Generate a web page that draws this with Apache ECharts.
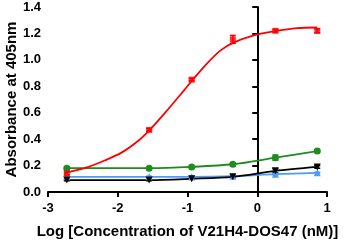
<!DOCTYPE html>
<html>
<head>
<meta charset="utf-8">
<script src="https://cdn.jsdelivr.net/npm/echarts@6/dist/echarts.min.js"></script>
<style>
html, body { margin: 0; padding: 0; background: #fff; }
#main { width: 344px; height: 241px; }
</style>
</head>
<body>
<div id="main"></div>
<script>
// log concentration (nM)
var logConc = [-2.73, -1.55, -0.94, -0.35, 0.26, 0.86];
var redVals = [0.14, 0.47, 0.85, 1.155, 1.22, 1.22];
var redErr = [0.01, 0.01, 0.01, 0.03, 0.01, 0.015];
var greenVals = [0.18, 0.18, 0.19, 0.21, 0.26, 0.31];
var greenErr = [0.01, 0.005, 0.005, 0.01, 0.02, 0.01];
var blackVals = [0.09, 0.09, 0.10, 0.115, 0.16, 0.19];
var blackErr = [0.005, 0.005, 0.005, 0.005, 0.015, 0.01];
var blueVals = [0.115, 0.115, 0.115, 0.12, 0.135, 0.145];
var blueErr = [0.005, 0.005, 0.005, 0.005, 0.005, 0.005];

// red fitted curve
var redFitX = [-2.76, -2.42, -2.18, -1.94, -1.70, -1.54, -1.32, -1.08, -0.94, -0.725, -0.53, -0.34, -0.05, 0.25, 0.57, 0.86];
var redFitY = [0.143, 0.19, 0.24, 0.30, 0.39, 0.47, 0.60, 0.75, 0.84, 0.97, 1.07, 1.13, 1.185, 1.217, 1.24, 1.245];

var xTicks = [-3, -2, -1, 0, 1];
var yTicks = [0, 0.2, 0.4, 0.6, 0.8, 1.0, 1.2, 1.4];

var fontFam = 'Liberation Sans, Arial, sans-serif';

function pairs(xs, vals) {
	return xs.map(function(x, i) { return [x, vals[i]]; });
}

function errData(vals, errs) {
	return logConc.map(function(x, i) { return [x, vals[i] - errs[i], vals[i] + errs[i]]; });
}

function lineSeries(name, vals, color, symbol, size, rot) {
	return {
		name: name,
		type: 'line',
		data: pairs(logConc, vals),
		smooth: 0.3,
		symbol: symbol,
		symbolSize: size,
		symbolRotate: rot || 0,
		lineStyle: { color: color, width: 1.8 },
		itemStyle: { color: color },
		z: 3
	};
}

function errSeries(vals, errs, color) {
	return {
		type: 'custom',
		data: errData(vals, errs),
		renderItem: function(params, api) {
			var top = api.coord([api.value(0), api.value(2)]);
			var bot = api.coord([api.value(0), api.value(1)]);
			return {
				type: 'group',
				children: [{
					type: 'line',
					shape: { x1: top[0], y1: top[1], x2: bot[0], y2: bot[1] },
					style: { stroke: color, lineWidth: 1.5 }
				}, {
					type: 'line',
					shape: { x1: top[0] - 3, y1: top[1], x2: top[0] + 3, y2: top[1] },
					style: { stroke: color, lineWidth: 1.5 }
				}, {
					type: 'line',
					shape: { x1: bot[0] - 3, y1: bot[1], x2: bot[0] + 3, y2: bot[1] },
					style: { stroke: color, lineWidth: 1.5 }
				}]
			};
		},
		z: 2
	};
}

var myChart = echarts.init(document.getElementById('main'));
var option = {
	animation: false,
	backgroundColor: '#fff',
	grid: {
		left: 48,
		right: 17,
		top: 7,
		bottom: 49,
		containLabel: false,
		outerBoundsMode: 'none'
	},
	xAxis: {
		type: 'value',
		min: -3,
		max: 1,
		interval: 1,
		name: 'Log [Concentration of V21H4-DOS47 (nM)]',
		nameLocation: 'middle',
		nameGap: 32,
		nameMoveOverlap: false,
		nameTextStyle: { color: '#000', fontSize: 15, fontWeight: 'bold', fontFamily: fontFam },
		axisLine: { onZero: false, lineStyle: { color: '#000', width: 2 } },
		axisTick: { show: true, length: 5, lineStyle: { color: '#000', width: 2 } },
		axisLabel: { color: '#000', fontSize: 13, fontWeight: 'bold', fontFamily: fontFam, margin: 10 },
		splitLine: { show: false }
	},
	yAxis: {
		type: 'value',
		min: 0,
		max: 1.4,
		interval: 0.2,
		name: 'Absorbance at 405nm',
		nameLocation: 'middle',
		nameGap: 29,
		nameMoveOverlap: false,
		nameTextStyle: { color: '#000', fontSize: 15, fontWeight: 'bold', fontFamily: fontFam },
		axisLine: { show: true, lineStyle: { color: '#000', width: 2 } },
		axisTick: { show: true, length: 5, lineStyle: { color: '#000', width: 2 } },
		axisLabel: {
			color: '#000', fontSize: 13, fontWeight: 'bold', fontFamily: fontFam, margin: 7,
			formatter: function(v) { return v.toFixed(1); }
		},
		splitLine: { show: false }
	},
	series: [
		errSeries(redVals, redErr, '#ff0000'),
		errSeries(greenVals, greenErr, '#1e8c1e'),
		errSeries(blackVals, blackErr, '#000'),
		errSeries(blueVals, blueErr, '#4a9cff'),
		lineSeries('blue', blueVals, '#4a9cff', 'triangle', 7),
		lineSeries('black', blackVals, '#000', 'triangle', 7, 180),
		lineSeries('green', greenVals, '#1e8c1e', 'circle', 7),
		{
			name: 'red fit',
			type: 'line',
			data: pairs(redFitX, redFitY),
			smooth: 0.3,
			showSymbol: false,
			symbol: 'none',
			lineStyle: { color: '#ff0000', width: 1.8 },
			z: 3
		},
		{
			name: 'red',
			type: 'scatter',
			data: pairs(logConc, redVals),
			symbol: 'rect',
			symbolSize: 6,
			itemStyle: { color: '#ff0000' },
			z: 4
		}
	]
};
myChart.setOption(option);
</script>
</body>
</html>
